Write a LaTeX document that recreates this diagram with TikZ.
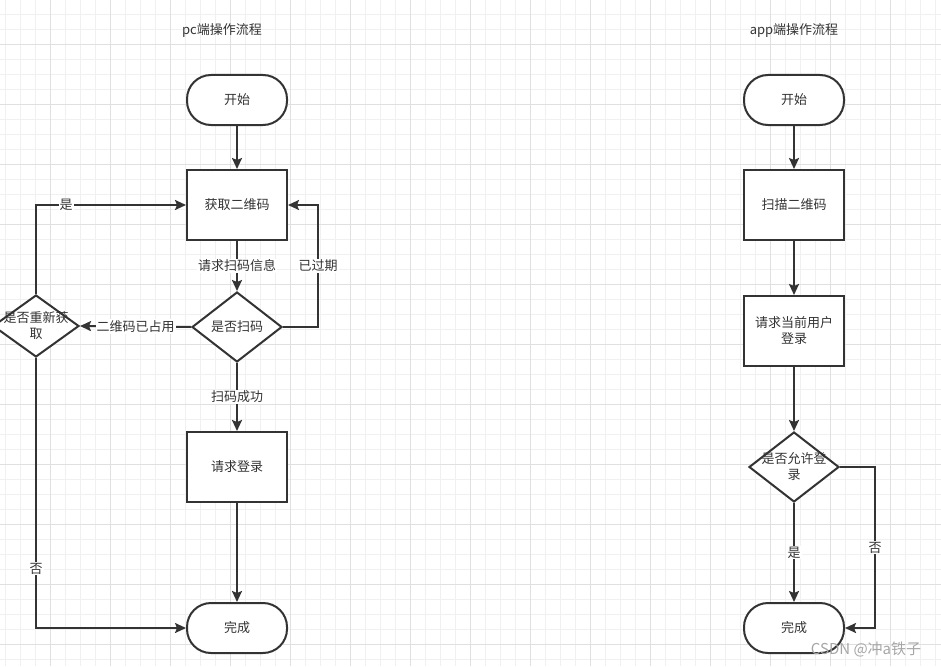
\documentclass[tikz,border=0pt]{standalone}
\usepackage{fontspec}
\setmainfont{Noto Sans CJK SC}
\usepackage{tikz}
\usetikzlibrary{shapes.geometric, arrows.meta, positioning}
\definecolor{flowline}{HTML}{333333}
\definecolor{gridminor}{HTML}{F0F0F0}
\definecolor{gridmajor}{HTML}{E0E0E0}

\begin{document}
\begin{tikzpicture}[
    x=1pt, y=-1pt,
    font=\fontsize{13}{16}\selectfont,
    text=flowline,
    terminal/.style={rectangle, rounded corners=24pt, draw=flowline, line width=2pt, fill=white, minimum width=100pt, minimum height=50pt},
    block/.style={rectangle, draw=flowline, line width=2pt, fill=white, minimum width=100pt, minimum height=70pt, align=center},
    decision/.style={diamond, draw=flowline, line width=2pt, fill=white, minimum width=90pt, minimum height=70pt, inner sep=0pt},
    arrow/.style={-{Stealth[length=11pt, width=10pt, inset=2pt]}, line width=2pt, draw=flowline},
    tag/.style={fill=white, inner sep=1pt}
]
    \clip (0,0) rectangle (941,666);
    \fill[white] (0,0) rectangle (941,666);

    % Grid
    \foreach \gx in {5,20,...,940} \draw[gridminor, line width=0.8pt] (\gx,0) -- (\gx,666);
    \foreach \gy in {14,29,...,665} \draw[gridminor, line width=0.8pt] (0,\gy) -- (941,\gy);
    \foreach \gx in {50,110,...,940} \draw[gridmajor, line width=0.8pt] (\gx,0) -- (\gx,666);
    \foreach \gy in {44,104,...,665} \draw[gridmajor, line width=0.8pt] (0,\gy) -- (941,\gy);

    % Titles
    \node (pcTitle) at (222,31) {pc端操作流程};
    \node (appTitle) at (794,31) {app端操作流程};

    % PC side
    \node[terminal] (pcStart) at (237,100) {开始};
    \node[block] (pcQR) at (237,205) {获取二维码};
    \node[decision] (pcScan) at (237,327) {是否扫码};
    \node[decision, minimum width=86pt, minimum height=62pt] (pcRetry) at (36,326) {};
    \node[align=center] (pcRetryText) at (pcRetry) {是否重新获\\取};
    \node[block] (pcLogin) at (237,467) {请求登录};
    \node[terminal] (pcDone) at (237,628) {完成};

    % App side
    \node[terminal] (appStart) at (794,100) {开始};
    \node[block] (appScan) at (794,205) {扫描二维码};
    \node[block] (appReq) at (794,331) {请求当前用户\\登录};
    \node[decision] (appAllow) at (794,467) {};
    \node[align=center] (appAllowText) at (appAllow) {是否允许登\\录};
    \node[terminal] (appDone) at (794,628) {完成};

    % Arrows (pc)
    \draw[arrow] (pcStart) -- (pcQR);
    \draw[arrow] (pcQR) -- node[tag] {请求扫码信息} (pcScan);
    \draw[arrow] (pcScan.east) -- ++(35,0) |- node[tag, pos=0.25] {已过期} (pcQR.east);
    \draw[arrow] (pcScan.west) -- node[tag] {二维码已占用} (pcRetry.east);
    \draw[arrow] (pcRetry.north) |- node[tag, pos=0.6] {是} (pcQR.west);
    \draw[arrow] (pcRetry.south) |- node[tag, pos=0.39] {否} (pcDone.west);
    \draw[arrow] (pcScan) -- node[tag] {扫码成功} (pcLogin);
    \draw[arrow] (pcLogin) -- (pcDone);

    % Arrows (app)
    \draw[arrow] (appStart) -- (appScan);
    \draw[arrow] (appScan) -- (appReq);
    \draw[arrow] (appReq) -- (appAllow);
    \draw[arrow] (appAllow) -- node[tag] {是} (appDone);
    \draw[arrow] (appAllow.east) -- ++(35,0) |- node[tag, pos=0.25] {否} (appDone.east);

    % Watermark
    \node[text=gray!70, font=\fontsize{15}{17}\selectfont] (csdn) at (866,649) {CSDN @冲a铁子};
\end{tikzpicture}
\end{document}
